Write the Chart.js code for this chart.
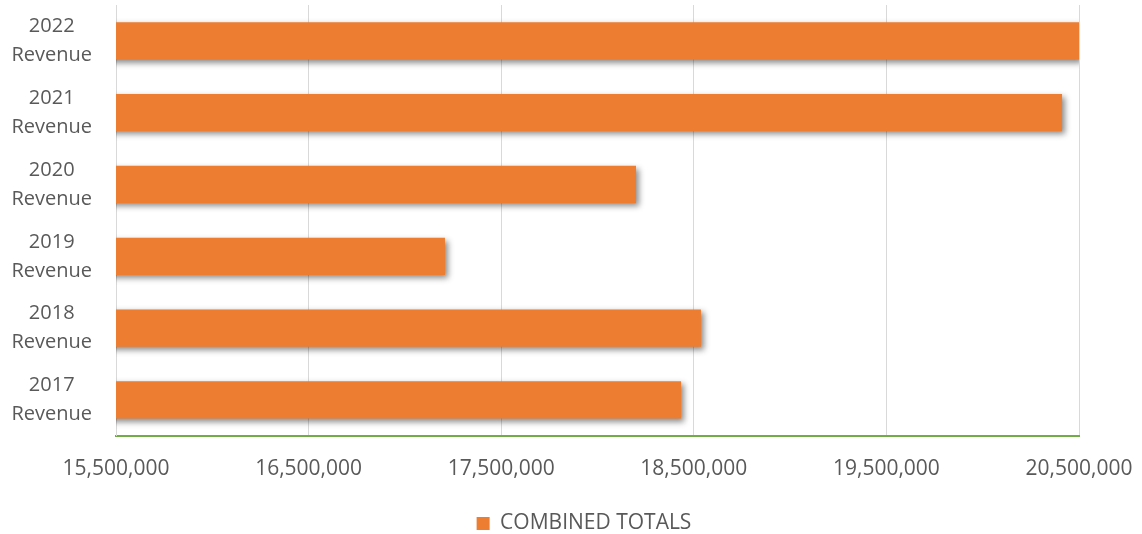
<!DOCTYPE html>
<html>
<head>
<meta charset="utf-8">
<script src="https://cdn.jsdelivr.net/npm/chart.js@4/dist/chart.umd.min.js"></script>
<style>
  html, body { margin: 0; padding: 0; background: #fff; }
  #wrap { width: 1142px; height: 534px; }
</style>
</head>
<body>
<div id="wrap"><canvas id="revenueChart"></canvas></div>
<script>
// categories listed top to bottom, as in the picture
var categories = [
  ['2022', 'Revenue'],
  ['2021', 'Revenue'],
  ['2020', 'Revenue'],
  ['2019', 'Revenue'],
  ['2018', 'Revenue'],
  ['2017', 'Revenue']
];
var combinedTotals = [20500000, 20412000, 18200000, 17208000, 18537000, 18434000];
var xTicks = [15500000, 16500000, 17500000, 18500000, 19500000, 20500000];

// soft drop shadow under the bars
var barShadow = {
  id: 'barShadow',
  beforeDatasetsDraw: function(chart) {
    var ctx = chart.ctx;
    ctx.save();
    ctx.shadowColor = 'rgba(0,0,0,0.45)';
    ctx.shadowBlur = 6;
    ctx.shadowOffsetX = 3;
    ctx.shadowOffsetY = 3;
  },
  afterDatasetsDraw: function(chart) {
    chart.ctx.restore();
  }
};

// legend sits a little right of the canvas centre
var legendNudge = {
  id: 'legendNudge',
  afterLayout: function(chart) {
    if (chart.legend) {
      chart.legend.left += 13;
      chart.legend.right += 13;
    }
  }
};

var textGrey = '#595959';
var fontFamily = '"Open Sans", "Noto Sans", sans-serif';

new Chart(document.getElementById('revenueChart'), {
  type: 'bar',
  data: {
    labels: categories,
    datasets: [{
      label: 'COMBINED TOTALS',
      data: combinedTotals,
      backgroundColor: '#ED7D31',
      borderWidth: 0,
      barPercentage: 0.52,
      categoryPercentage: 1
    }]
  },
  options: {
    indexAxis: 'y',
    responsive: true,
    maintainAspectRatio: false,
    animation: false,
    layout: { padding: { left: 8, right: 8, top: 5, bottom: -10 } },
    plugins: {
      tooltip: { enabled: false },
      legend: {
        position: 'bottom',
        labels: {
          color: textGrey,
          font: { family: fontFamily, size: 21 },
          boxWidth: 13,
          boxHeight: 13,
          padding: 10
        }
      }
    },
    scales: {
      x: {
        min: xTicks[0],
        max: xTicks[xTicks.length - 1],
        afterBuildTicks: function(axis) {
          axis.ticks = xTicks.map(function(v) { return { value: v }; });
        },
        afterFit: function(axis) {
          axis.paddingLeft = 0;
          axis.paddingRight = 63;
        },
        grid: { color: '#D9D9D9', drawTicks: false },
        border: { color: '#70AD47', width: 2 },
        ticks: {
          color: textGrey,
          padding: 21,
          font: { family: fontFamily, size: 21 },
          callback: function(v) { return Number(v).toLocaleString('en-US'); }
        }
      },
      y: {
        grid: { display: false },
        border: { color: '#D9D9D9', width: 1 },
        afterFit: function(axis) {
          axis.width = 108;
          axis.paddingTop = 0;
          axis.paddingBottom = 0;
        },
        ticks: {
          color: textGrey,
          padding: 16,
          crossAlign: 'center',
          font: { family: fontFamily, size: 20, lineHeight: 1.45 }
        }
      }
    }
  },
  plugins: [barShadow, legendNudge]
});
</script>
</body>
</html>
